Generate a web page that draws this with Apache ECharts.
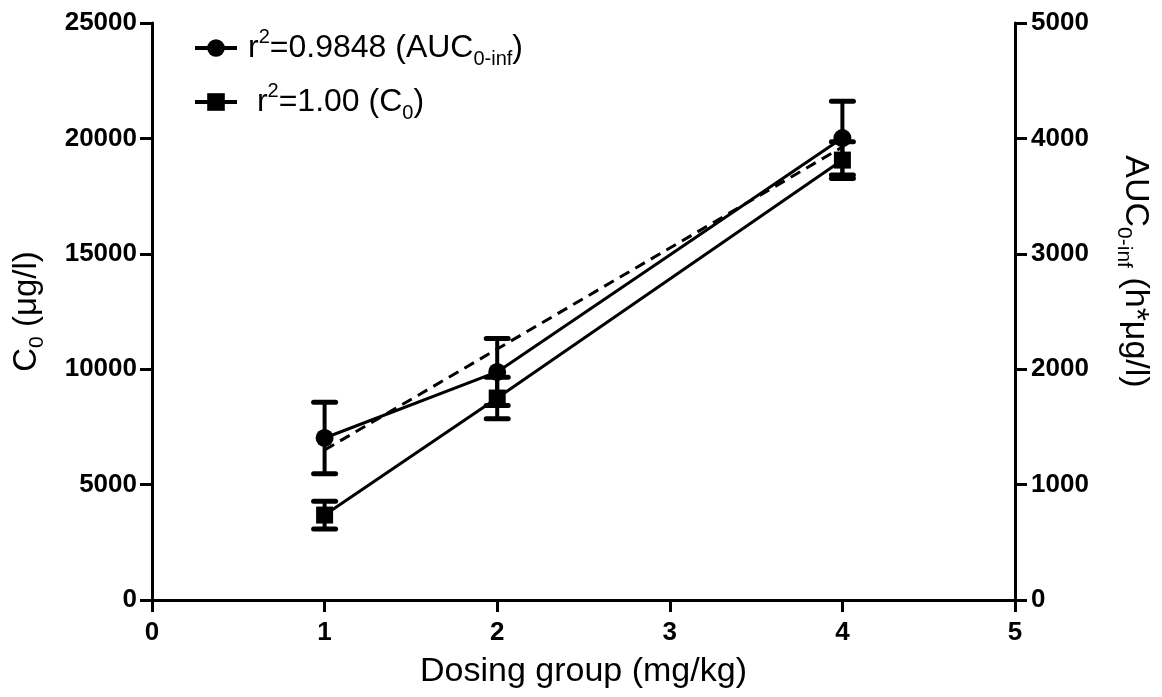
<!DOCTYPE html>
<html>
<head>
<meta charset="utf-8">
<script src="https://cdn.jsdelivr.net/npm/echarts@6/dist/echarts.min.js"></script>
<style>html,body{margin:0;padding:0;background:#fff;}#c{width:1162px;height:697px;}</style>
</head>
<body>
<div id="c"></div>
<script>
// Dosing groups (mg/kg)
const doses = [1, 2, 4];
// AUC0-inf (h*µg/l) - right axis, circles
const aucMean = [1404, 1976, 4003];
const aucSD = [310, 290, 320];
// C0 (µg/l) - left axis, squares
const c0Mean = [3680, 8750, 19060];
const c0SD = [600, 900, 800];
// regression line for AUC (dashed), read endpoints
const fitX = [1, 4];
const fitAUC = [1300, 3925];
// ticks
const xTicks = [0, 1, 2, 3, 4, 5];
const leftTicks = [0, 5000, 10000, 15000, 20000, 25000];
const rightTicks = [0, 1000, 2000, 3000, 4000, 5000];

const FONT = '"Liberation Sans", Arial, sans-serif';
const aucName = 'r2=0.9848 (AUC0-inf)';
const c0Name = 'r2=1.00 (C0)';

const aucData = doses.map((d, i) => [d, aucMean[i]]);
const c0Data = doses.map((d, i) => [d, c0Mean[i]]);
const aucErr = doses.map((d, i) => [d, aucMean[i] - aucSD[i], aucMean[i] + aucSD[i]]);
const c0Err = doses.map((d, i) => [d, c0Mean[i] - c0SD[i], c0Mean[i] + c0SD[i]]);
const fitData = fitX.map((x, i) => [x, fitAUC[i]]);

function errRender(params, api) {
  const x = api.value(0);
  const lo = api.coord([x, api.value(1)]);
  const hi = api.coord([x, api.value(2)]);
  const half = 11;
  const st = {stroke: '#000', lineWidth: 4};
  return {
    type: 'group',
    children: [
      {type: 'line', shape: {x1: hi[0], y1: hi[1], x2: lo[0], y2: lo[1]}, style: st},
      {type: 'line', shape: {x1: hi[0] - half, y1: hi[1], x2: hi[0] + half, y2: hi[1]}, style: {stroke: '#000', lineWidth: 5, lineCap: 'round'}},
      {type: 'line', shape: {x1: lo[0] - half, y1: lo[1], x2: lo[0] + half, y2: lo[1]}, style: {stroke: '#000', lineWidth: 5, lineCap: 'round'}}
    ]
  };
}

function mkRich(size) {
  const s = Math.round(size * 0.63);
  return {
    n: {fontSize: size, fontFamily: FONT, color: '#000', lineHeight: Math.round(size * 1.3), verticalAlign: 'middle'},
    sub: {fontSize: s, fontFamily: FONT, color: '#000', lineHeight: s, verticalAlign: 'bottom'},
    sup: {fontSize: s, fontFamily: FONT, color: '#000', lineHeight: s, verticalAlign: 'top'}
  };
}

const axisCommon = {
  axisLine: {show: true, lineStyle: {color: '#000', width: 3}},
  axisTick: {show: true, length: 12, lineStyle: {color: '#000', width: 3}},
  splitLine: {show: false},
  axisLabel: {color: '#000', fontFamily: FONT, fontWeight: 'bold', fontSize: 26, formatter: v => String(v)}
};

const chart = echarts.init(document.getElementById('c'), null, {renderer: 'canvas'});
chart.setOption({
  animation: false,
  backgroundColor: '#fff',
  grid: {left: 152, right: 147, top: 23, bottom: 97},
  legend: {
    orient: 'vertical',
    left: 188,
    top: 22,
    itemWidth: 42,
    itemHeight: 22,
    itemGap: 12,
    data: [aucName, c0Name],
    lineStyle: {width: 4},
    formatter: function (name) {
      if (name === aucName) return '{n|r}{sup|2}{n|=0.9848 (AUC}{sub|0-inf}{n|)}';
      return '{n| r}{sup|2}{n|=1.00 (C}{sub|0}{n|)}';
    },
    textStyle: {rich: mkRich(32), padding: [0, 0, 0, 6]}
  },
  xAxis: Object.assign({}, axisCommon, {
    type: 'value', min: xTicks[0], max: xTicks[xTicks.length - 1], interval: 1,
    axisLabel: Object.assign({}, axisCommon.axisLabel, {margin: 20}),
    name: 'Dosing group (mg/kg)', nameLocation: 'middle', nameGap: 55,
    nameTextStyle: {fontSize: 34, fontFamily: FONT, color: '#000'}
  }),
  yAxis: [
    Object.assign({}, axisCommon, {
      type: 'value', position: 'left', min: leftTicks[0], max: leftTicks[leftTicks.length - 1], interval: 5000,
      axisLabel: Object.assign({}, axisCommon.axisLabel, {margin: 15}),
      name: '{n|C}{sub|0}{n| (μg/l)}', nameLocation: 'middle', nameGap: 104,
      nameTextStyle: {rich: mkRich(33)}
    }),
    Object.assign({}, axisCommon, {
      type: 'value', position: 'right', min: rightTicks[0], max: rightTicks[rightTicks.length - 1], interval: 1000,
      axisLabel: Object.assign({}, axisCommon.axisLabel, {margin: 16}),
      name: '{n|AUC}{sub|0-inf}{n| (h*μg/l)}', nameLocation: 'middle', nameGap: 98, nameRotate: -90,
      nameTextStyle: {rich: mkRich(34), padding: [0, 80, 0, 0]}
    })
  ],
  series: [
    {
      type: 'line', name: 'fit', yAxisIndex: 1, data: fitData, showSymbol: false, symbol: 'none',
      lineStyle: {color: '#000', width: 3, type: [11, 7]}, z: 2, silent: true
    },
    {
      type: 'custom', name: 'aucErr', yAxisIndex: 1, data: aucErr, renderItem: errRender, z: 3
    },
    {
      type: 'custom', name: 'c0Err', yAxisIndex: 0, data: c0Err, renderItem: errRender, z: 3
    },
    {
      type: 'line', name: aucName, yAxisIndex: 1, data: aucData, symbol: 'circle', symbolSize: 18,
      itemStyle: {color: '#000'}, lineStyle: {color: '#000', width: 3}, z: 4
    },
    {
      type: 'line', name: c0Name, yAxisIndex: 0, data: c0Data, symbol: 'rect', symbolSize: 17,
      itemStyle: {color: '#000'}, lineStyle: {color: '#000', width: 3}, z: 4
    }
  ]
});
</script>
</body>
</html>
